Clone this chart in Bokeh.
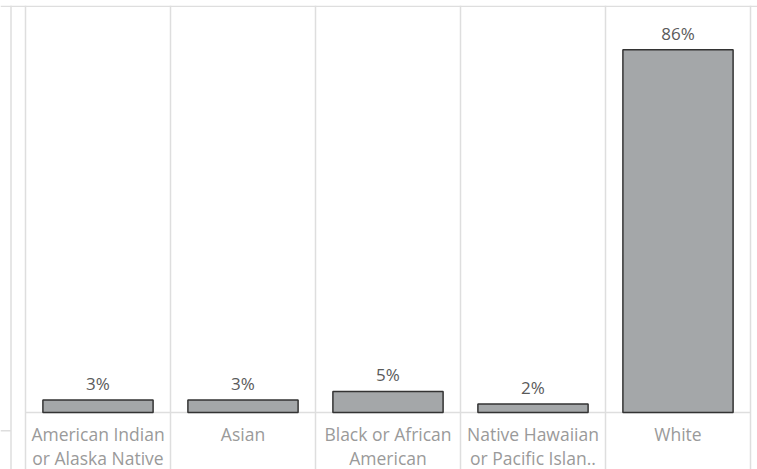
from bokeh.plotting import figure
from bokeh.models import Span, ColumnDataSource
from bokeh.core.properties import value
from bokeh.embed import file_html
from bokeh.resources import INLINE

categories = ["American Indian or Alaska Native", "Asian", "Black or African American",
              "Native Hawaiian or Pacific Islander", "White"]
label_line1 = ["American Indian", "Asian", "Black or African", "Native Hawaiian", "White"]
label_line2 = ["or Alaska Native", "", "American", "or Pacific Islan..", ""]
values = [3, 3, 5, 2, 86]

xs = [i + 0.5 for i in range(len(categories))]
src = ColumnDataSource(dict(x=xs, v=values, txt=[f"{v}%" for v in values],
                            l1=label_line1, l2=label_line2,
                            y1=[-5] * len(xs), y2=[-10.7] * len(xs)))

W, H = 757, 469
p = figure(width=W, height=H, output_backend="svg", toolbar_location=None,
           x_range=(-25 / 145, -25 / 145 + W / 145), y_range=(-13.5, 96.5),
           min_border_left=0, min_border_right=0, min_border_top=5, min_border_bottom=0)
p.axis.visible = False
p.grid.visible = False
p.outline_line_color = None
p.background_fill_color = "white"
p.border_fill_color = "white"

grid_col = "#dedede"
# column dividers and frame sides
for loc in range(0, len(categories) + 1):
    p.add_layout(Span(location=loc, dimension="height", line_color=grid_col, line_width=1.5))
# left neighbouring panel edge
p.add_layout(Span(location=-0.1, dimension="height", line_color=grid_col, line_width=1.5))
# top border
p.add_layout(Span(location=96.3, dimension="width", line_color=grid_col, line_width=1.5))
# baseline
p.segment(x0=[0], x1=[len(categories)], y0=[0], y1=[0], line_color=grid_col, line_width=1.5)
p.segment(x0=[-25 / 145], x1=[-0.1], y0=[-4.3], y1=[-4.3], line_color=grid_col, line_width=1.5)

p.vbar(x="x", top="v", bottom=0, width=0.76, source=src,
       fill_color="#a4a7a9", line_color="#333333", line_width=1.5)

p.text(x="x", y="v", text="txt", source=src, text_align="center", text_baseline="bottom",
       y_offset=-5, text_font=value("Open Sans"), text_font_size="17px", text_color="#5a5a5a")
p.text(x="x", y="y1", text="l1", source=src, text_align="center", text_baseline="middle",
       text_font=value("Open Sans"), text_font_size="17.5px", text_color="#9a9a9a")
p.text(x="x", y="y2", text="l2", source=src, text_align="center", text_baseline="middle",
       text_font=value("Open Sans"), text_font_size="17.5px", text_color="#9a9a9a")

open("out.html", "w").write(file_html(p, INLINE))
